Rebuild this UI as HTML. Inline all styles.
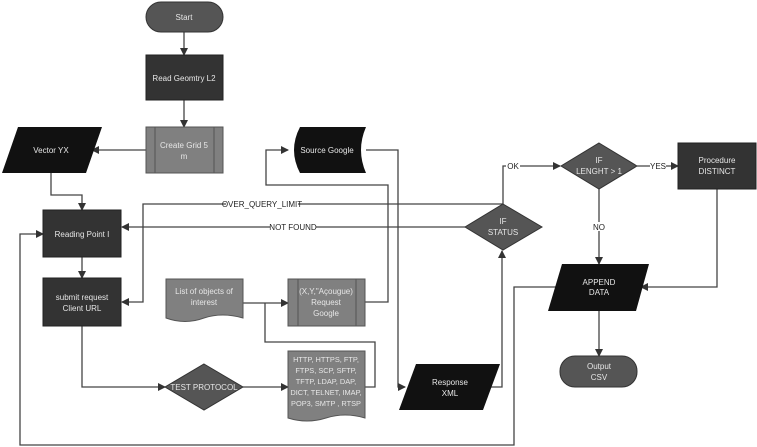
<!DOCTYPE html>
<html><head><meta charset="utf-8"><style>
html,body{margin:0;padding:0;background:#fff;}
svg{display:block;}
text{font-family:"Liberation Sans",sans-serif;font-size:8px;fill:#e6e6e6;text-anchor:middle;}
.l{fill:#222;font-size:8px;}
.c{fill:none;stroke:#444;stroke-width:1.3;}
.s{font-size:7.4px;}
</style></head><body>
<svg width="757" height="447" viewBox="0 0 757 447" xmlns="http://www.w3.org/2000/svg">
<defs><marker id="a" markerWidth="8" markerHeight="8" refX="7" refY="4" orient="auto" markerUnits="userSpaceOnUse"><path d="M0,0 L8,4 L0,8 z" fill="#333"/></marker></defs>
<g class="c" marker-end="url(#a)">
<path d="M184,32 V55"/>
<path d="M184,100 V127"/>
<path d="M146,150 H92"/>
<path d="M51,173 V195 H82 V210"/>
<path d="M82,257 V278"/>
<path d="M82,326 V387 H165"/>
<path d="M243,387 H288"/>
<path d="M243,303 H288"/>
<path d="M365,302 H388 V185 H266 V150 H288"/>
<path d="M366,150 H398 V387 H405"/>
<path d="M490,387 H502 V251"/>
<path d="M503,204 V166 H560"/>
<path d="M637,166 H678"/>
<path d="M599,189 V264"/>
<path d="M717,189 V287 H641"/>
<path d="M599,311 V356"/>
<path d="M503,204 H143 V302 H122"/>
<path d="M465,227 H122"/>
<path d="M556,287 H514 V445 H20 V234 H43"/>
</g>
<path d="M365,387 H375 V342 H265 V303" class="c"/>
<rect x="146" y="2" width="77" height="30" rx="15" fill="#555" stroke="#333"/>
<text x="184" y="20">Start</text>
<rect x="146" y="55" width="77" height="45" fill="#333" stroke="#222"/>
<text x="184" y="81">Read Geomtry L2</text>
<rect x="146" y="127" width="77" height="46" fill="#808080" stroke="#555"/>
<path d="M155,127 V173 M214,127 V173" stroke="#555"/>
<text x="184" y="148">Create Grid 5</text><text x="184" y="159">m</text>
<polygon points="18,127 102,127 86,173 2,173" fill="#111"/>
<text x="51" y="153">Vector YX</text>
<rect x="43" y="210" width="78" height="47" fill="#333" stroke="#222"/>
<text x="82" y="237">Reading Point I</text>
<rect x="43" y="278" width="78" height="48" fill="#333" stroke="#222"/>
<text x="82" y="300">submit request</text><text x="82" y="311">Client URL</text>
<polygon points="204,364 243,387 204,410 165,387" fill="#555" stroke="#333"/>
<text x="204" y="390">TEST PROTOCOL</text>
<path d="M166,279 H243 V318 Q222,312 204,318 Q185,325 166,318 Z" fill="#808080" stroke="#555"/>
<text x="204" y="294">List of objects of</text><text x="204" y="305">interest</text>
<path d="M288,351 H365 V418 Q345,412 326,418 Q307,424 288,418 Z" fill="#808080" stroke="#555"/>
<text class="s" x="326" y="362">HTTP, HTTPS, FTP,</text>
<text class="s" x="326" y="373">FTPS, SCP, SFTP,</text>
<text class="s" x="326" y="384">TFTP, LDAP, DAP,</text>
<text class="s" x="326" y="395">DICT, TELNET, IMAP,</text>
<text class="s" x="326" y="406">POP3, SMTP , RTSP</text>
<rect x="288" y="279" width="77" height="47" fill="#808080" stroke="#555"/>
<path d="M298,279 V326 M356,279 V326" stroke="#555"/>
<text x="326" y="294">(X,Y,"Açougue)</text><text x="326" y="305">Request</text><text x="326" y="316">Google</text>
<path d="M300,127 H366 Q356,150 366,173 H300 Q288,150 300,127 Z" fill="#111"/>
<text x="327" y="153">Source Google</text>
<polygon points="416,364 500,364 483,410 399,410" fill="#111"/>
<text x="450" y="385">Response</text><text x="450" y="396">XML</text>
<polygon points="503,204 542,227 503,250 465,227" fill="#555" stroke="#333"/>
<text x="503" y="224">IF</text><text x="503" y="235">STATUS</text>
<polygon points="599,143 637,166 599,189 561,166" fill="#555" stroke="#333"/>
<text x="599" y="163">IF</text><text x="599" y="174">LENGHT &gt; 1</text>
<rect x="678" y="143" width="78" height="46" fill="#333" stroke="#222"/>
<text x="717" y="163">Procedure</text><text x="717" y="174">DISTINCT</text>
<polygon points="562,264 649,264 636,311 548,311" fill="#111"/>
<text x="599" y="285">APPEND</text><text x="599" y="295">DATA</text>
<rect x="560" y="356" width="77" height="31" rx="15" fill="#555" stroke="#333"/>
<text x="599" y="369">Output</text><text x="599" y="380">CSV</text>
<rect x="226" y="199" width="72" height="9" fill="#fff"/><text class="l" x="262" y="207">OVER_QUERY_LIMIT</text>
<rect x="270" y="222" width="46" height="9" fill="#fff"/><text class="l" x="293" y="230">NOT FOUND</text>
<rect x="506" y="161" width="14" height="9" fill="#fff"/><text class="l" x="513" y="169">OK</text>
<rect x="650" y="161" width="16" height="9" fill="#fff"/><text class="l" x="658" y="169">YES</text>
<rect x="592" y="222" width="14" height="9" fill="#fff"/><text class="l" x="599" y="230">NO</text>
</svg>
</body></html>
